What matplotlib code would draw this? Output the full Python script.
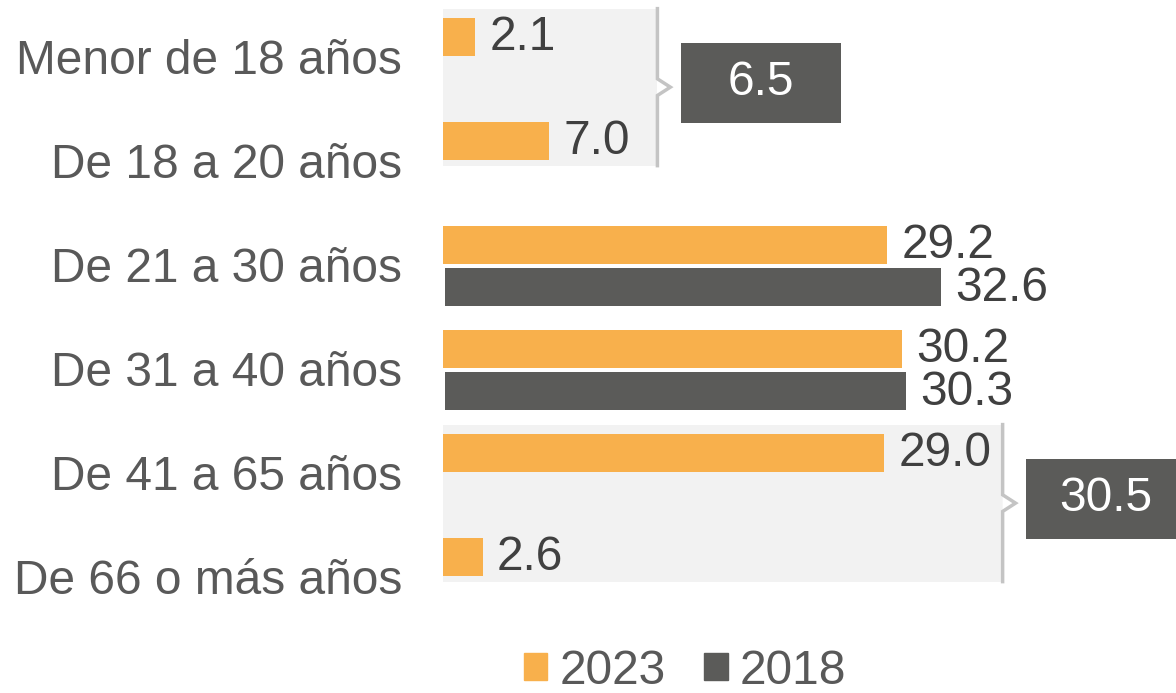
import matplotlib
matplotlib.use("Agg")
import matplotlib.pyplot as plt
from matplotlib.patches import Rectangle, Patch

# --- data ---
categories = ["Menor de 18 años", "De 18 a 20 años", "De 21 a 30 años",
              "De 31 a 40 años", "De 41 a 65 años", "De 66 o más años"]
vals_2023 = [2.1, 7.0, 29.2, 30.2, 29.0, 2.6]
vals_2018 = [None, None, 32.6, 30.3, None, None]
# 2018 values reported only for grouped categories
groups_2018 = [(0, 1), (4, 5)]
group_vals_2018 = [6.5, 30.5]

# --- style ---
ORANGE = "#F8B04C"
DARK = "#5B5B59"
PANEL = "#F2F2F2"
LINE = "#C4C4C4"
TXT = "#404040"
LBL = "#595959"
FS = 34.5
plt.rcParams["font.family"] = ["Liberation Sans", "DejaVu Sans"]

fig = plt.figure(figsize=(11.76, 6.93), dpi=100)
ax = fig.add_axes([443 / 1176, 1 - 620 / 693, 1 - 443 / 1176, 620 / 693])
ax.set_xlim(0, 48.2)
ax.set_ylim(5.404, -0.558)
ax.axis("off")

bh = 0.37
off = 0.2
bracket_x = [14.1, 36.8]

# grey group panels with bracket and 2018 box
for (r0, r1), v, bx in zip(groups_2018, group_vals_2018, bracket_x):
    y0, y1 = r0 - 0.475, r1 + 0.035
    ym = (y0 + y1) / 2
    ax.add_patch(Rectangle((0, y0), bx, y1 - y0, color=PANEL, lw=0, zorder=0))
    ax.add_patch(plt.Polygon([(bx, ym - 0.08), (bx + 0.85, ym), (bx, ym + 0.08)],
                             closed=True, color="white", lw=0, zorder=1))
    ax.plot([bx, bx, bx + 0.85, bx, bx], [y0, ym - 0.08, ym, ym + 0.08, y1],
            color=LINE, lw=2.5, zorder=2, solid_joinstyle="miter")
    by = ym - 0.04
    ax.add_patch(Rectangle((bx + 1.55, by - 0.385), 10.5, 0.77, color=DARK,
                           lw=0, zorder=2, clip_on=False))
    ax.text(bx + 1.55 + 5.25, by, f"{v:.1f}", color="white", fontsize=FS,
            ha="center", va="center", zorder=3)

rows = list(range(len(categories)))
ax.barh([r - off for r in rows], vals_2023, height=bh, color=ORANGE, zorder=3)
for r, v in zip(rows, vals_2023):
    ax.text(v + 0.95, r - off, f"{v:.1f}", fontsize=FS, color=TXT,
            va="center", ha="left", zorder=4)

rows18 = [r for r, v in zip(rows, vals_2018) if v is not None]
v18 = [v for v in vals_2018 if v is not None]
ax.barh([r + off for r in rows18], v18, height=bh, left=0.15, color=DARK, zorder=3)
for r, v in zip(rows18, v18):
    ax.text(v + 1.05, r + off + 0.02, f"{v:.1f}", fontsize=FS, color=TXT,
            va="center", ha="left", zorder=4)

# category labels
for r, c in zip(rows, categories):
    ax.text(-2.7, r + 0.03, c, fontsize=FS, color=LBL, ha="right", va="center")

handles = [Patch(color=ORANGE, label="2023"), Patch(color=DARK, label="2018")]
fig.legend(handles=handles, loc="center", bbox_to_anchor=(685 / 1176, 1 - 671 / 693),
           ncol=2, frameon=False, fontsize=FS, handlelength=0.5, handleheight=0.5,
           handletextpad=0.25, columnspacing=0.8, labelcolor=LBL)

fig.savefig("out.png", dpi=100)
